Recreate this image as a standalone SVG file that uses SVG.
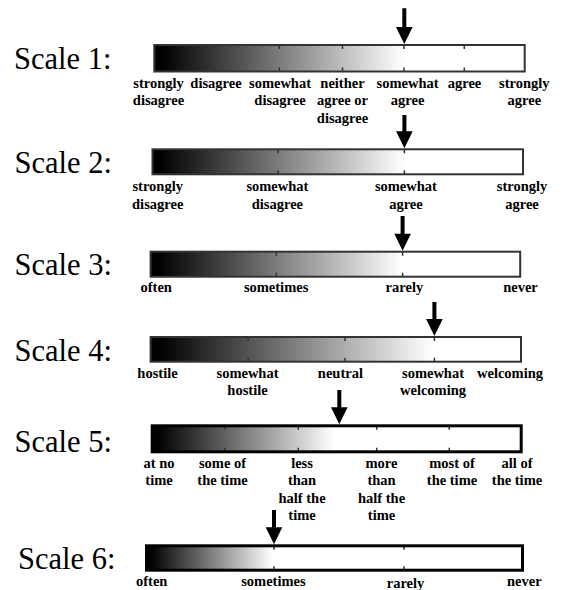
<svg xmlns="http://www.w3.org/2000/svg" width="573" height="590" viewBox="0 0 573 590">
<style>
.title{font-family:"Liberation Serif","Times New Roman",serif;font-size:30.5px;fill:#000}
.lbl{font-family:"Liberation Serif","Times New Roman",serif;font-size:14.5px;font-weight:bold;fill:#000;text-anchor:middle}
.bg{fill:#fff;stroke:none}
.grad{fill:url(#g);stroke:none}
.border{fill:none;stroke:#333;stroke-width:2}
.border.thick{stroke:#000;stroke-width:3}
.tick{fill:none;stroke:#333;stroke-width:1.5}
.arrow{fill:#000;stroke:none}
</style>
<defs>
<linearGradient id="g" x1="0" y1="0" x2="1" y2="0">
<stop offset="0" stop-color="#000"/>
<stop offset="0.03" stop-color="#000"/>
<stop offset="1" stop-color="#fff"/>
</linearGradient>
</defs>
<rect width="573" height="590" fill="#fff"/>

<g id="scale1">
<text class="title" x="14" y="68.5">Scale 1:</text>
<rect class="bg" x="154.3" y="45" width="370.4" height="26.5"/>
<rect class="grad" x="154.3" y="45" width="249.7" height="26.5"/>
<path class="tick" d="M215.4,45v4M215.4,71.5v-4M279.3,45v4M279.3,71.5v-4M342.5,45v4M342.5,71.5v-4M404,45v4M404,71.5v-4M464.3,45v4M464.3,71.5v-4"/>
<rect class="border" x="154.3" y="45" width="370.4" height="26.5"/>
<text class="lbl" x="158.5" y="87.5">strongly</text>
<text class="lbl" x="158.5" y="105">disagree</text>
<text class="lbl" x="216" y="87.5">disagree</text>
<text class="lbl" x="280" y="87.5">somewhat</text>
<text class="lbl" x="280" y="105">disagree</text>
<text class="lbl" x="342.5" y="87.5">neither</text>
<text class="lbl" x="342.5" y="105">agree or</text>
<text class="lbl" x="342.5" y="122.5">disagree</text>
<text class="lbl" x="407.6" y="87.5">somewhat</text>
<text class="lbl" x="407.6" y="105">agree</text>
<text class="lbl" x="464.5" y="87.5">agree</text>
<text class="lbl" x="524.3" y="87.5">strongly</text>
<text class="lbl" x="524.3" y="105">agree</text>
</g>

<g id="scale2">
<text class="title" x="14.5" y="173">Scale 2:</text>
<rect class="bg" x="152.5" y="149.3" width="370.5" height="25"/>
<rect class="grad" x="152.5" y="149.3" width="251.9" height="25"/>
<path class="tick" d="M278.1,149.3v4M278.1,174.3v-4M404.4,149.3v4M404.4,174.3v-4"/>
<rect class="border" x="152.5" y="149.3" width="370.5" height="25"/>
<text class="lbl" x="157.7" y="191">strongly</text>
<text class="lbl" x="157.7" y="208.5">disagree</text>
<text class="lbl" x="277.4" y="191">somewhat</text>
<text class="lbl" x="277.4" y="208.5">disagree</text>
<text class="lbl" x="405.9" y="191">somewhat</text>
<text class="lbl" x="405.9" y="208.5">agree</text>
<text class="lbl" x="522" y="191">strongly</text>
<text class="lbl" x="522" y="208.5">agree</text>
</g>

<g id="scale3">
<text class="title" x="14.5" y="275">Scale 3:</text>
<rect class="bg" x="150.6" y="251.7" width="369.6" height="25"/>
<rect class="grad" x="150.6" y="251.7" width="251.4" height="25"/>
<path class="tick" d="M276.3,251.7v4M276.3,276.7v-4M402.6,251.7v4M402.6,276.7v-4"/>
<rect class="border" x="150.6" y="251.7" width="369.6" height="25"/>
<text class="lbl" x="156.2" y="292">often</text>
<text class="lbl" x="276.1" y="292">sometimes</text>
<text class="lbl" x="404.4" y="292">rarely</text>
<text class="lbl" x="520.5" y="292">never</text>
</g>

<g id="scale4">
<text class="title" x="14.5" y="361">Scale 4:</text>
<rect class="bg" x="150.6" y="337" width="370.4" height="24.7"/>
<rect class="grad" x="150.6" y="337" width="281.4" height="24.7"/>
<path class="tick" d="M248.2,337v4M248.2,361.7v-4M345,337v4M345,361.7v-4M434.4,337v4M434.4,361.7v-4"/>
<rect class="border" x="150.6" y="337" width="370.4" height="24.7"/>
<text class="lbl" x="157.5" y="377.5">hostile</text>
<text class="lbl" x="247.5" y="377.5">somewhat</text>
<text class="lbl" x="247.5" y="395">hostile</text>
<text class="lbl" x="340.4" y="377.5">neutral</text>
<text class="lbl" x="433" y="377.5">somewhat</text>
<text class="lbl" x="433" y="395">welcoming</text>
<text class="lbl" x="510" y="377.5">welcoming</text>
</g>

<g id="scale5">
<text class="title" x="14.5" y="452">Scale 5:</text>
<rect class="bg" x="152.2" y="425.8" width="369" height="26"/>
<rect class="grad" x="152.2" y="425.8" width="181.8" height="26"/>
<path class="tick" d="M225,425.8v4M225,451.8v-4M298.3,425.8v4M298.3,451.8v-4M376.7,425.8v4M376.7,451.8v-4M449.3,425.8v4M449.3,451.8v-4"/>
<rect class="border thick" x="152.2" y="425.8" width="369" height="26"/>
<text class="lbl" x="159" y="467.5">at no</text>
<text class="lbl" x="159" y="485">time</text>
<text class="lbl" x="222.5" y="467.5">some of</text>
<text class="lbl" x="222.5" y="485">the time</text>
<text class="lbl" x="302" y="467.5">less</text>
<text class="lbl" x="302" y="485">than</text>
<text class="lbl" x="302" y="502.5">half the</text>
<text class="lbl" x="302" y="520">time</text>
<text class="lbl" x="381.5" y="467.5">more</text>
<text class="lbl" x="381.5" y="485">than</text>
<text class="lbl" x="381.5" y="502.5">half the</text>
<text class="lbl" x="381.5" y="520">time</text>
<text class="lbl" x="452" y="467.5">most of</text>
<text class="lbl" x="452" y="485">the time</text>
<text class="lbl" x="517" y="467.5">all of</text>
<text class="lbl" x="517" y="485">the time</text>
</g>

<g id="scale6">
<text class="title" x="18" y="568.5">Scale 6:</text>
<rect class="bg" x="146.5" y="545.8" width="376" height="24.4"/>
<rect class="grad" x="146.5" y="545.8" width="126.5" height="24.4"/>
<path class="tick" d="M274,545.8v4M274,570.2v-4M404,545.8v4M404,570.2v-4"/>
<rect class="border thick" x="146.5" y="545.8" width="376" height="24.4"/>
<text class="lbl" x="151.7" y="585.5">often</text>
<text class="lbl" x="273.4" y="585.5">sometimes</text>
<text class="lbl" x="405.5" y="588">rarely</text>
<text class="lbl" x="524.3" y="585.5">never</text>
</g>

<g id="connectors">
<path class="arrow" d="M402.3,8.3V27H396L404.3,44L412.6,27H406.3V8.3Z"/>
<path class="arrow" d="M402.4,115V131.3H396.1L404.4,148.3L412.7,131.3H406.4V115Z"/>
<path class="arrow" d="M400.6,216V233.7H394.3L402.6,250.7L410.9,233.7H404.6V216Z"/>
<path class="arrow" d="M432.4,302V319H426.1L434.4,336L442.7,319H436.4V302Z"/>
<path class="arrow" d="M337.3,390V407.3H331L339.3,424.3L347.6,407.3H341.3V390Z"/>
<path class="arrow" d="M272,510V527.3H265.7L274,544.3L282.3,527.3H276V510Z"/>
</g>
</svg>
